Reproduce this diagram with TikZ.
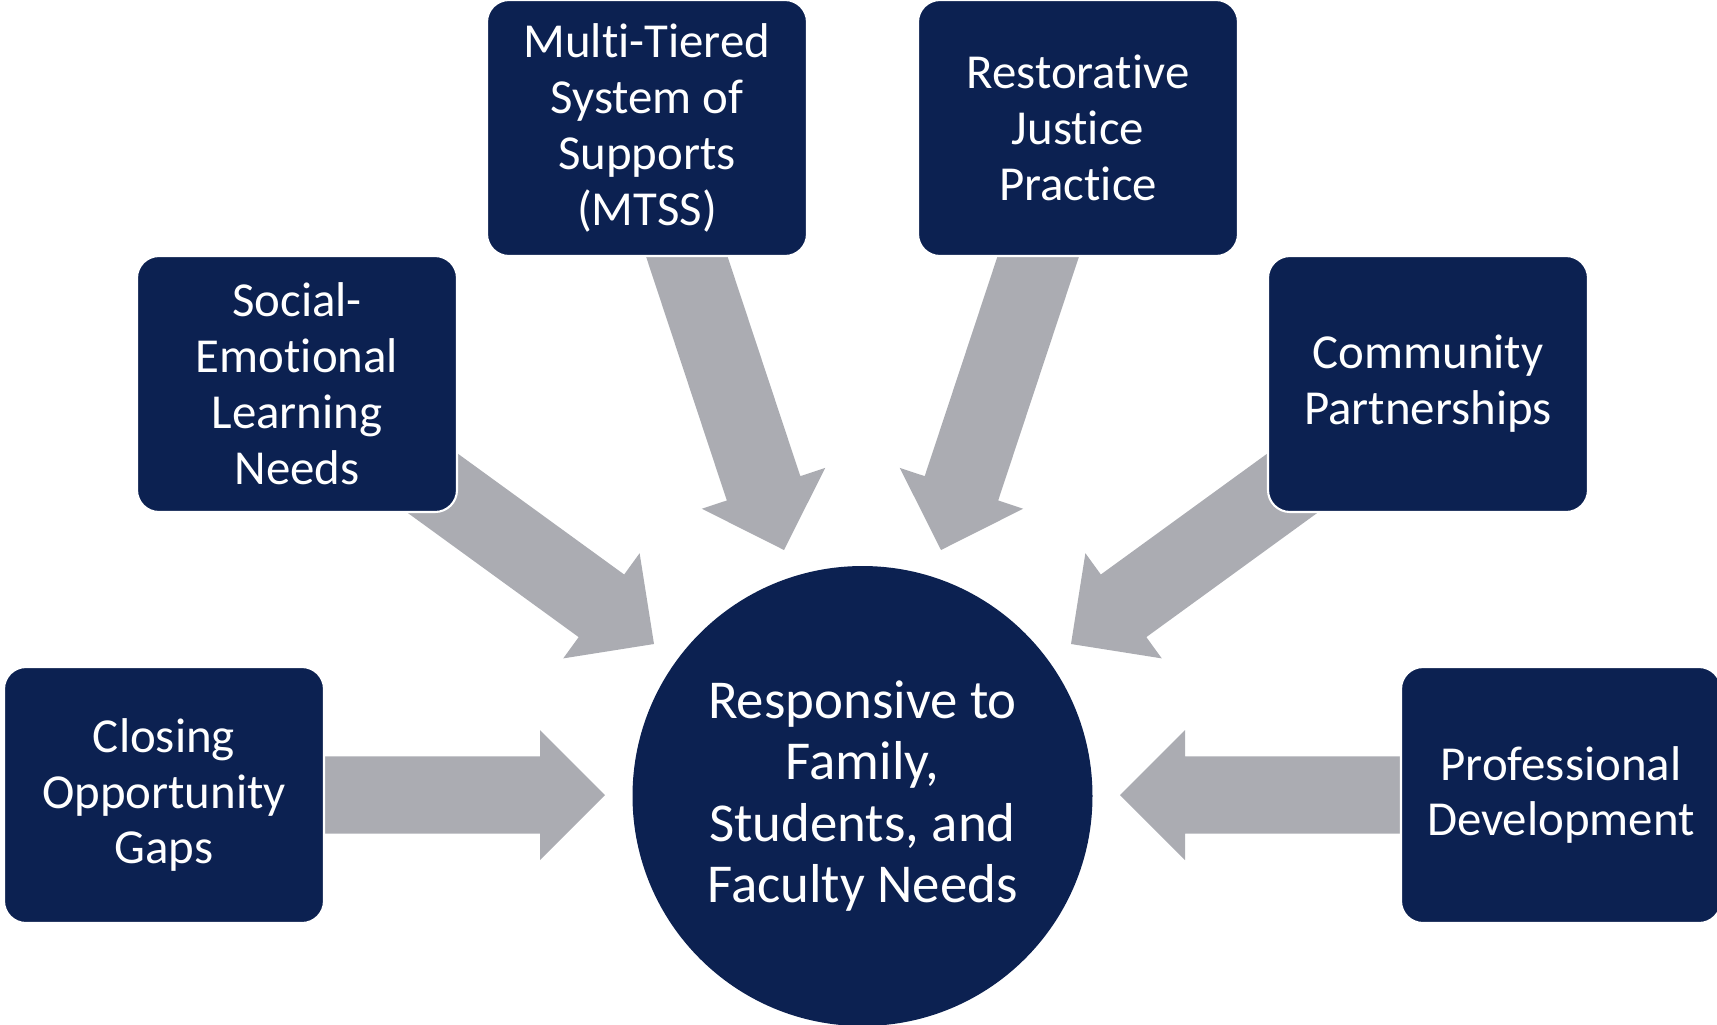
\documentclass[tikz,border=0pt]{standalone}
\usepackage{fontspec}
\setmainfont{Carlito}[Ligatures=CommonOff]
\usetikzlibrary{calc}
\definecolor{navy}{HTML}{0C2151}
\definecolor{arrowgray}{HTML}{ABACB2}
\tikzset{
  box/.style={rectangle, rounded corners=0.22cm, fill=navy, draw=white, line width=0.6pt,
    minimum width=3.2cm, minimum height=2.56cm, inner sep=0pt, text=white, align=center,
    font=\fontsize{13.9}{15.9}\selectfont},
  hub/.style={circle, fill=navy, minimum size=4.6cm, inner sep=0pt, text=white, align=center,
    font=\fontsize{15.6}{17.5}\selectfont}
}
\newcommand{\fatarrow}[2]{%
  \coordinate (hb) at ($(#2)!0.65cm!(#1)$);
  \fill[arrowgray] ($(#1)!0.387cm!90:(#2)$) -- ($(hb)!0.387cm!90:(#2)$) -- ($(hb)!0.65cm!90:(#2)$)
    -- (#2) -- ($(hb)!0.65cm!-90:(#2)$) -- ($(hb)!0.387cm!-90:(#2)$) -- ($(#1)!0.387cm!-90:(#2)$) -- cycle;
}
\begin{document}
\begin{tikzpicture}
    \useasboundingbox (0,0) rectangle (17.17,-10.24);
    \coordinate (cgS) at (3.20,-7.95);
    \coordinate (cgT) at (6.05,-7.95);
    \coordinate (selS) at (4.20,-4.74);
    \coordinate (selT) at (6.54,-6.44);
    \coordinate (mtS) at (6.78,-2.30);
    \coordinate (mtT) at (7.84,-5.50);
    \coordinate (rjS) at (10.47,-2.30);
    \coordinate (rjT) at (9.41,-5.50);
    \coordinate (cpS) at (13.05,-4.74);
    \coordinate (cpT) at (10.71,-6.44);
    \coordinate (pdS) at (14.05,-7.95);
    \coordinate (pdT) at (11.20,-7.95);
    \fatarrow{cgS}{cgT}
    \fatarrow{selS}{selT}
    \fatarrow{mtS}{mtT}
    \fatarrow{rjS}{rjT}
    \fatarrow{cpS}{cpT}
    \fatarrow{pdS}{pdT}
    \node [hub] (needs) at (8.625,-7.96) {Responsive to\\Family,\\Students, and\\Faculty Needs};
    \node [box] (gaps) at (1.64,-7.95) {Closing\\Opportunity\\Gaps};
    \node [box] (sel) at (2.97,-3.84) {Social-\\Emotional\\Learning\\Needs};
    \node [box] (mtss) at (6.47,-1.28) {Multi-Tiered\\System of\\Supports\\(MTSS)};
    \node [box] (rjp) at (10.78,-1.28) {Restorative\\Justice\\Practice};
    \node [box] (comm) at (14.28,-3.84) {Community\\Partnerships};
    \node [box] (prof) at (15.61,-7.95) {Professional\\Development};
\end{tikzpicture}
\end{document}
